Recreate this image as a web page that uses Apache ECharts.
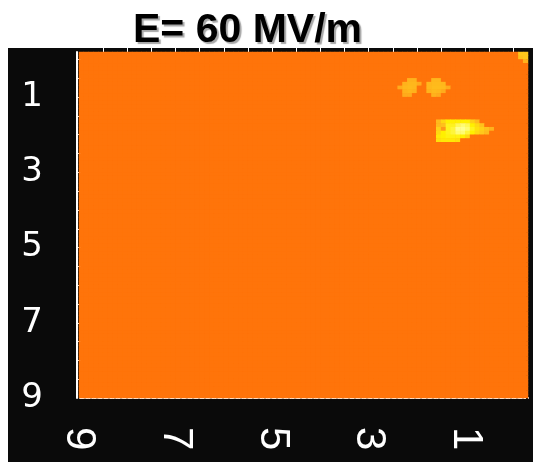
<!DOCTYPE html>
<html>
<head>
<meta charset="utf-8">
<style>
  html, body { margin: 0; padding: 0; background: #ffffff; }
  #chart { width: 533px; height: 462px; }
</style>
<script src="https://cdn.jsdelivr.net/npm/echarts@6/dist/echarts.min.js"></script>
</head>
<body>
<div id="chart"></div>
<script>
// Field map, x runs from 9 (left) to -0.3 (right), y from -0.2 (top) to 9 (bottom)
const titleText = 'E= 60 MV/m';
const xRange = [-0.3, 9];
const yRange = [-0.2, 9];
const cellSize = 0.1;

const xTickLabels = [1, 3, 5, 7, 9];
const yTickLabels = [1, 3, 5, 7, 9];
const topTickValues = [0, 0.5, 1, 1.5, 2, 2.5, 3, 3.5, 4, 4.5, 5, 5.5, 6, 6.5, 7, 7.5, 8, 8.5];
const leftTickValues = [0, 0.5, 1, 1.5, 2, 2.5, 3, 3.5, 4, 4.5, 5, 5.5, 6, 6.5, 7, 7.5, 8, 8.5];

// Uniform level of the field
const fieldLevel = 0;

// Brighter patches: [x, y, level]
const patchA = [
  [2.15, 0.55, 0.35], [2.05, 0.55, 0.35],
  [2.25, 0.65, 0.35], [2.15, 0.65, 0.38], [2.05, 0.65, 0.38], [1.95, 0.65, 0.3],
  [2.35, 0.75, 0.3], [2.25, 0.75, 0.38], [2.15, 0.75, 0.4], [2.05, 0.75, 0.38],
  [2.25, 0.85, 0.35], [2.15, 0.85, 0.38], [2.05, 0.85, 0.35],
  [2.25, 0.95, 0.3], [2.15, 0.95, 0.3]
];
const patchB = [
  [1.65, 0.55, 0.38], [1.55, 0.55, 0.38],
  [1.75, 0.65, 0.38], [1.65, 0.65, 0.4], [1.55, 0.65, 0.4], [1.45, 0.65, 0.38],
  [1.75, 0.75, 0.38], [1.65, 0.75, 0.42], [1.55, 0.75, 0.42], [1.45, 0.75, 0.4], [1.35, 0.75, 0.3],
  [1.75, 0.85, 0.35], [1.65, 0.85, 0.4], [1.55, 0.85, 0.38], [1.45, 0.85, 0.3],
  [1.65, 0.95, 0.35], [1.55, 0.95, 0.3]
];
const patchCorner = [
  [-0.15, -0.15, 0.5], [-0.25, -0.15, 0.5],
  [-0.15, -0.05, 0.45], [-0.25, -0.05, 0.5],
  [-0.25, 0.05, 0.35]
];
const patchHot = [
  [1.55, 1.65, 0.4], [1.45, 1.65, 0.6], [1.35, 1.65, 0.75], [1.25, 1.65, 0.75], [1.15, 1.65, 0.75], [1.05, 1.65, 0.75], [0.95, 1.65, 0.75], [0.85, 1.65, 0.55], [0.75, 1.65, 0.4],
  [1.55, 1.75, 0.4], [1.45, 1.75, 0.45], [1.35, 1.75, 0.8], [1.25, 1.75, 0.8], [1.15, 1.75, 0.9], [1.05, 1.75, 0.95], [0.95, 1.75, 0.9], [0.85, 1.75, 0.75], [0.75, 1.75, 0.6], [0.65, 1.75, 0.45],
  [1.55, 1.85, 0.55], [1.45, 1.85, 0.2], [1.35, 1.85, 0.8], [1.25, 1.85, 0.85], [1.15, 1.85, 1.0], [1.05, 1.85, 1.0], [0.95, 1.85, 0.95], [0.85, 1.85, 0.8], [0.75, 1.85, 0.65], [0.65, 1.85, 0.55], [0.55, 1.85, 0.45], [0.45, 1.85, 0.35],
  [1.55, 1.95, 0.6], [1.45, 1.95, 0.75], [1.35, 1.95, 0.8], [1.25, 1.95, 0.85], [1.15, 1.95, 0.95], [1.05, 1.95, 0.95], [0.95, 1.95, 0.85], [0.85, 1.95, 0.75], [0.75, 1.95, 0.6], [0.65, 1.95, 0.5], [0.55, 1.95, 0.4],
  [1.55, 2.05, 0.7], [1.45, 2.05, 0.75], [1.35, 2.05, 0.78], [1.25, 2.05, 0.78], [1.15, 2.05, 0.78], [1.05, 2.05, 0.75], [0.95, 2.05, 0.6],
  [1.55, 2.15, 0.65], [1.45, 2.15, 0.7], [1.35, 2.15, 0.7], [1.25, 2.15, 0.7], [1.15, 2.15, 0.65]
];

// Cell centres along each axis (left to right, top to bottom)
const nx = Math.round((xRange[1] - xRange[0]) / cellSize);
const ny = Math.round((yRange[1] - yRange[0]) / cellSize);
const xCells = [];
for (let i = 0; i < nx; i++) xCells.push((xRange[1] - (i + 0.5) * cellSize).toFixed(2));
const yCells = [];
for (let j = 0; j < ny; j++) yCells.push((yRange[0] + (j + 0.5) * cellSize).toFixed(2));

const xIndex = x => Math.round((xRange[1] - x) / cellSize - 0.5);
const yIndex = y => Math.round((y - yRange[0]) / cellSize - 0.5);

// Level table: uniform field with the patches laid over it
const levels = [];
for (let j = 0; j < ny; j++) {
  levels.push(new Array(nx).fill(fieldLevel));
}
[patchA, patchB, patchCorner, patchHot].forEach(patch => {
  patch.forEach(([x, y, v]) => { levels[yIndex(y)][xIndex(x)] = v; });
});
const heatData = [];
for (let j = 0; j < ny; j++) {
  for (let i = 0; i < nx; i++) heatData.push([i, j, levels[j][i]]);
}

const levelColors = ['#ff740a', '#ffa41c', '#ffc81c', '#fff000', '#ffff90'];

const chart = echarts.init(document.getElementById('chart'), null, { renderer: 'canvas' });

const labelFont = 'DejaVu Sans';

chart.setOption({
  animation: false,
  backgroundColor: '#ffffff',
  graphic: [{
    type: 'rect',
    z: -10,
    shape: { x: 8, y: 48, width: 525, height: 414 },
    style: { fill: '#0a0a0a' }
  }],
  title: {
    text: titleText,
    left: 128,
    top: 5,
    textStyle: {
      fontFamily: 'Liberation Sans',
      fontSize: 41,
      fontWeight: 'bold',
      color: '#000000',
      textShadowColor: 'rgba(0,0,0,0.35)',
      textShadowOffsetX: 2,
      textShadowOffsetY: 2,
      textShadowBlur: 1
    }
  },
  grid: {
    left: 79, top: 52, width: 449, height: 346,
    show: true,
    backgroundColor: levelColors[0],
    borderWidth: 0,
    outerBoundsMode: 'none',
    containLabel: false
  },
  xAxis: [
    { type: 'category', data: xCells, show: false, position: 'bottom' },
    {
      type: 'value', min: xRange[0], max: xRange[1], inverse: true, position: 'bottom',
      axisLine: { show: true, onZero: false, lineStyle: { color: '#ffffff', width: 2, type: [4, 2] } },
      axisTick: { show: false },
      splitLine: { show: false },
      axisLabel: {
        customValues: xTickLabels, rotate: -90, margin: 29,
        color: '#ffffff', fontSize: 42, fontFamily: 'Liberation Sans'
      }
    },
    {
      type: 'value', min: xRange[0], max: xRange[1], inverse: true, position: 'top',
      axisLine: { show: false, onZero: false },
      axisTick: { show: true, customValues: topTickValues, length: 4, lineStyle: { color: '#ffffff', width: 1 } },
      axisLabel: { show: false },
      splitLine: { show: false }
    }
  ],
  yAxis: [
    { type: 'category', data: yCells, inverse: true, show: false },
    {
      type: 'value', min: yRange[0], max: yRange[1], inverse: true, position: 'left', offset: 2,
      axisLine: { show: true, onZero: false, lineStyle: { color: '#ffffff', width: 2 } },
      axisTick: { show: true, customValues: leftTickValues, inside: true, length: 4, lineStyle: { color: '#ffffff', width: 1 } },
      splitLine: { show: false },
      axisLabel: {
        customValues: yTickLabels, margin: 34, padding: [7, 0, 0, 0],
        color: '#ffffff', fontSize: 34, fontFamily: labelFont
      }
    },
    {
      type: 'value', min: yRange[0], max: yRange[1], interval: 0.1, inverse: true, position: 'right',
      axisLine: { show: false, onZero: false },
      axisTick: { show: true, inside: true, length: 2, lineStyle: { color: '#0a0a0a', width: 2 } },
      axisLabel: { show: false },
      splitLine: { show: false }
    }
  ],
  visualMap: {
    type: 'continuous', show: false, min: 0, max: 1, dimension: 2, seriesIndex: 0,
    inRange: { color: levelColors }
  },
  series: [{
    type: 'heatmap',
    xAxisIndex: 0,
    yAxisIndex: 0,
    data: heatData,
    progressive: 0,
    emphasis: { disabled: true },
    itemStyle: { borderWidth: 0 }
  }]
});
</script>
</body>
</html>
